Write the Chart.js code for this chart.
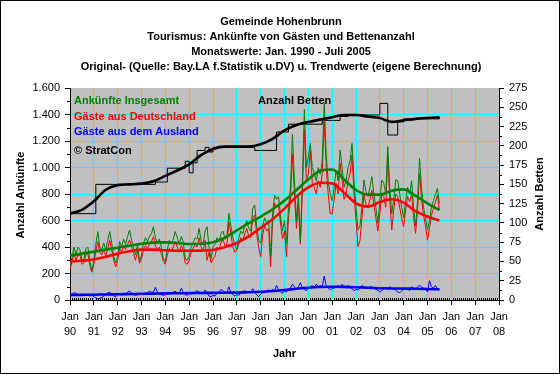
<!DOCTYPE html>
<html>
<head>
<meta charset="utf-8">
<script src="https://cdn.jsdelivr.net/npm/chart.js@4/dist/chart.umd.min.js"></script>
<style>
  html, body { margin: 0; padding: 0; background: #fff; }
  #wrap { width: 560px; height: 374px; }
</style>
</head>
<body>
<div id="wrap"><canvas id="chart" width="560" height="374"></canvas></div>
<script>
// Monatswerte Jan 1990 - Jul 2005 (Index 0 = Jan 1990)
const gesamt = [
  260, 320, 400, 340, 400, 380, 300, 310, 390, 400, 290, 220,
  300, 420, 516, 400, 380, 430, 380, 450, 516, 430, 330, 280,
  330, 440, 400, 460, 420, 480, 528, 450, 390, 340, 420, 290,
  340, 430, 470, 440, 480, 500, 553, 470, 430, 460, 400, 310,
  290, 380, 450, 420, 460, 516, 470, 420, 480, 440, 310, 300,
  330, 400, 430, 470, 460, 540, 450, 420, 520, 553, 400, 310,
  400, 420, 470, 440, 500, 520, 470, 480, 654, 560, 470, 420,
  378, 470, 520, 500, 560, 600, 540, 520, 690, 717, 560, 450,
  428, 560, 620, 580, 600, 327, 650, 792, 760, 780, 640, 520,
  600, 428, 700, 850, 1250, 900, 600, 800, 441, 900, 1440, 1000,
  1082, 1182, 1000, 956, 900, 1000, 950, 1050, 1490, 1100, 900, 800,
  750, 850, 980, 900, 1132, 1000, 850, 900, 1000, 1050, 1182, 900,
  700, 528, 560, 700, 906, 820, 780, 850, 931, 800, 700, 579,
  750, 906, 880, 800, 1157, 850, 650, 760, 906, 900, 800, 700,
  620, 750, 850, 800, 900, 700, 560, 750, 1069, 850, 700, 620,
  528, 600, 700, 750, 800, 843, 730
];
const deutschland = [
  230, 290, 350, 300, 340, 340, 270, 280, 340, 350, 260, 210,
  270, 370, 440, 360, 340, 380, 330, 390, 450, 380, 300, 250,
  300, 390, 360, 410, 380, 420, 453, 400, 350, 300, 370, 277,
  310, 380, 410, 390, 420, 440, 478, 410, 380, 400, 350, 290,
  270, 340, 390, 370, 400, 440, 400, 360, 410, 380, 280, 270,
  300, 360, 390, 420, 400, 470, 400, 370, 450, 300, 360, 280,
  310, 330, 400, 380, 430, 460, 410, 420, 591, 500, 400, 360,
  378, 420, 470, 450, 500, 540, 480, 470, 620, 641, 500, 400,
  327, 490, 560, 520, 540, 252, 590, 730, 700, 710, 580, 460,
  520, 327, 620, 760, 1100, 800, 540, 720, 420, 820, 1290, 900,
  950, 1132, 880, 850, 800, 900, 850, 950, 1350, 1000, 800, 654,
  650, 760, 880, 800, 1031, 900, 760, 800, 900, 950, 1094, 800,
  600, 403, 450, 620, 800, 720, 700, 760, 830, 720, 620, 520,
  650, 800, 780, 700, 1081, 760, 528, 680, 800, 780, 700, 620,
  553, 680, 780, 740, 800, 620, 503, 680, 956, 760, 640, 560,
  452, 540, 640, 690, 740, 792, 679
];
const ausland = [
  40, 45, 55, 50, 40, 35, 45, 42, 38, 35, 30, 35,
  25, 15, 10, 12, 20, 30, 45, 55, 60, 45, 30, 25,
  40, 45, 35, 50, 40, 60, 68, 50, 40, 35, 40, 42,
  45, 40, 50, 55, 65, 60, 60, 95, 60, 45, 40, 35,
  40, 45, 55, 50, 60, 65, 55, 50, 88, 60, 40, 35,
  50, 45, 55, 60, 70, 60, 55, 50, 75, 55, 30, 25,
  35, 30, 50, 60, 80, 70, 60, 55, 100, 60, 40, 30,
  40, 35, 55, 65, 70, 60, 60, 55, 85, 60, 40, 25,
  45, 55, 60, 70, 75, 65, 80, 70, 110, 80, 60, 50,
  70, 60, 80, 90, 120, 100, 80, 100, 130, 90, 80, 70,
  90, 100, 110, 95, 120, 100, 110, 100, 181, 110, 90, 80,
  85, 90, 100, 110, 95, 120, 100, 90, 110, 100, 85, 70,
  80, 75, 90, 110, 100, 95, 90, 100, 100, 90, 80, 75,
  60, 70, 85, 95, 80, 100, 90, 85, 75, 60, 55, 70,
  80, 90, 85, 70, 100, 90, 80, 100, 110, 100, 90, 85,
  60, 146, 100, 90, 110, 85, 80
];

// Bettenanzahl: Monat der Aenderung und neuer Wert
const bettenMonate = [0, 13, 43, 49, 58, 60, 62, 64, 68, 70, 72, 93, 104, 110, 127, 136, 140, 156, 160, 165, 168, 186];
const betten = [112, 150, 153, 171, 180, 165, 178, 194, 198, 192, 198, 194, 218, 228, 233, 238, 240, 255, 214, 231, 235, 237];

const trendMonate = [0, 6, 12, 18, 24, 30, 36, 42, 48, 54, 60, 66, 72, 78, 84, 90, 96, 102, 108, 114, 120, 126, 132, 138, 144, 150, 156, 162, 168, 174, 180, 186];
const trendGesamt = [335, 350, 365, 380, 395, 410, 425, 433, 435, 430, 423, 424, 435, 470, 525, 580, 630, 685, 750, 830, 910, 975, 985, 910, 830, 795, 795, 825, 835, 785, 730, 679];
const trendDeutschland = [290, 296, 305, 325, 350, 368, 380, 380, 375, 372, 372, 373, 378, 400, 430, 480, 545, 610, 690, 780, 850, 885, 880, 810, 730, 705, 740, 760, 735, 670, 630, 600];
const trendAusland = [38, 39, 40, 42, 43, 45, 47, 48, 50, 51, 52, 53, 54, 55, 56, 58, 62, 68, 76, 85, 93, 98, 100, 99, 96, 92, 89, 87, 86, 85, 83, 80];
const trendBetten = [112, 117, 128, 143, 149, 150, 151, 154, 161, 168, 176, 188, 196, 199, 199, 199, 202, 209, 220, 227, 231, 234, 237, 240, 240, 238, 236, 231, 233, 235, 236, 237];

// Achsenbeschriftung
const jahre = ["90", "91", "92", "93", "94", "95", "96", "97", "98", "99", "00", "01", "02", "03", "04", "05", "06", "07", "08"];

const titel = [
  "Gemeinde Hohenbrunn",
  "Tourismus: Ankünfte von Gästen und Bettenanzahl",
  "Monatswerte: Jan. 1990 - Juli 2005",
  "Original- (Quelle: Bay.LA f.Statistik u.DV) u. Trendwerte (eigene Berechnung)"
];

const FONT = "'Liberation Sans', Arial, sans-serif";
const CYAN = "#00ffff";

function monthly(arr) {
  return arr.map((v, i) => ({ x: i, y: v }));
}
function pairs(xs, ys) {
  return xs.map((m, i) => ({ x: m, y: ys[i] }));
}
function punkt(v) {
  return String(v).replace(/\B(?=(\d{3})+(?!\d))/g, ".");
}

function trendSet(data, color, axis) {
  return {
    data: data,
    borderColor: color,
    borderWidth: 2.6,
    pointRadius: 0,
    cubicInterpolationMode: "monotone",
    yAxisID: axis,
    order: 0,
  };
}
function origSet(data, color, axis) {
  return {
    data: data,
    borderColor: color,
    borderWidth: 1,
    pointRadius: 0,
    tension: 0,
    yAxisID: axis,
    order: 1,
  };
}

// Hintergrund, Rahmen und Texte
const deko = {
  id: "deko",
  beforeDraw(chart) {
    const ctx = chart.ctx;
    const a = chart.chartArea;
    ctx.save();
    ctx.fillStyle = "#ffffff";
    ctx.fillRect(0, 0, chart.width, chart.height);
    ctx.fillStyle = "#c0c0c0";
    ctx.fillRect(a.left, a.top, a.right - a.left, a.bottom - a.top);
    ctx.restore();
  },
  afterDraw(chart) {
    const ctx = chart.ctx;
    const a = chart.chartArea;
    const sx = chart.scales.x, sy = chart.scales.y, sy1 = chart.scales.y1;
    ctx.save();

    // Rahmen
    ctx.strokeStyle = "#000";
    ctx.lineWidth = 1;
    ctx.strokeRect(0.5, 0.5, chart.width - 1, chart.height - 1);

    // Hilfsstriche
    ctx.beginPath();
    for (let v = 100; v < 1600; v += 200) {
      const y = Math.round(sy.getPixelForValue(v)) + 0.5;
      ctx.moveTo(a.left - 3, y); ctx.lineTo(a.left, y);
    }
    for (let v = 12.5; v < 275; v += 25) {
      const y = Math.round(sy1.getPixelForValue(v)) + 0.5;
      ctx.moveTo(a.right, y); ctx.lineTo(a.right + 3, y);
    }
    for (let m = 1; m < 216; m++) {
      if (m % 12 === 0) continue;
      const x = Math.round(sx.getPixelForValue(m)) + 0.5;
      ctx.moveTo(x, a.bottom); ctx.lineTo(x, a.bottom - 2);
    }
    ctx.stroke();

    // Titel
    ctx.fillStyle = "#000";
    ctx.font = "bold 11px " + FONT;
    ctx.textAlign = "center";
    ctx.textBaseline = "middle";
    titel.forEach((t, i) => ctx.fillText(t, 281, 22 + i * 15));

    // Achsentitel
    ctx.fillText("Jahr", (a.left + a.right) / 2, 354);
    ctx.save();
    ctx.translate(21, 195);
    ctx.rotate(-Math.PI / 2);
    ctx.fillText("Anzahl Ankünfte", 0, 0);
    ctx.restore();
    ctx.save();
    ctx.translate(540, 194);
    ctx.rotate(-Math.PI / 2);
    ctx.fillText("Anzahl Betten", 0, 0);
    ctx.restore();

    // Legende im Diagramm
    ctx.textAlign = "left";
    ctx.fillStyle = "#008000";
    ctx.fillText("Ankünfte Insgesamt", a.left + 4, 101);
    ctx.fillStyle = "#ff0000";
    ctx.fillText("Gäste aus Deutschland", a.left + 4, 117);
    ctx.fillStyle = "#0000ff";
    ctx.fillText("Gäste aus dem Ausland", a.left + 4, 132);
    ctx.fillStyle = "#000";
    ctx.fillText("© StratCon", a.left + 4, 151);
    ctx.fillText("Anzahl Betten", 258, 101);

    ctx.restore();
  },
};

new Chart(document.getElementById("chart"), {
  type: "line",
  data: {
    datasets: [
      trendSet(pairs(trendMonate, trendGesamt), "#008000", "y"),
      trendSet(pairs(trendMonate, trendDeutschland), "#ff0000", "y"),
      trendSet(pairs(trendMonate, trendAusland), "#0000ff", "y"),
      trendSet(pairs(trendMonate, trendBetten), "#000000", "y1"),
      origSet(monthly(gesamt), "#008000", "y"),
      origSet(monthly(deutschland), "#ff0000", "y"),
      origSet(monthly(ausland), "#0000ff", "y"),
      Object.assign(origSet(pairs(bettenMonate, betten), "#000000", "y1"), { stepped: "before" }),
    ],
  },
  options: {
    responsive: false,
    animation: false,
    layout: { padding: { top: 88, left: 0, right: 0, bottom: 0 } },
    plugins: {
      legend: { display: false },
      tooltip: { enabled: false },
      title: { display: false },
    },
    scales: {
      x: {
        type: "linear",
        position: "bottom",
        min: 0,
        max: 216,
        afterFit: (s) => { s.height = 74; },
        ticks: {
          stepSize: 12,
          autoSkip: false,
          maxRotation: 0,
          padding: 4,
          color: "#000",
          font: { family: FONT, size: 11, lineHeight: 1.4 },
          callback: (v) => ["Jan", jahre[v / 12]],
        },
        grid: { color: CYAN, tickColor: "#000", tickLength: 5 },
        border: { color: "#000" },
      },
      y: {
        position: "left",
        min: 0,
        max: 1600,
        afterFit: (s) => { s.width = 70; },
        ticks: {
          stepSize: 200,
          padding: 5,
          color: "#000",
          font: { family: FONT, size: 11 },
          callback: (v) => punkt(v),
        },
        grid: {
          color: (c) => (c.tick && (c.tick.value === 1600 || c.tick.value === 0) ? "rgba(0,0,0,0)" : CYAN),
          tickColor: "#000",
          tickLength: 5,
        },
        border: { color: "#000" },
      },
      y1: {
        position: "right",
        min: 0,
        max: 275,
        afterFit: (s) => { s.width = 61; },
        ticks: {
          stepSize: 25,
          padding: 5,
          color: "#000",
          font: { family: FONT, size: 11 },
        },
        grid: { drawOnChartArea: false, tickColor: "#000", tickLength: 5 },
        border: { color: "#000" },
      },
    },
  },
  plugins: [deko],
});
</script>
</body>
</html>
